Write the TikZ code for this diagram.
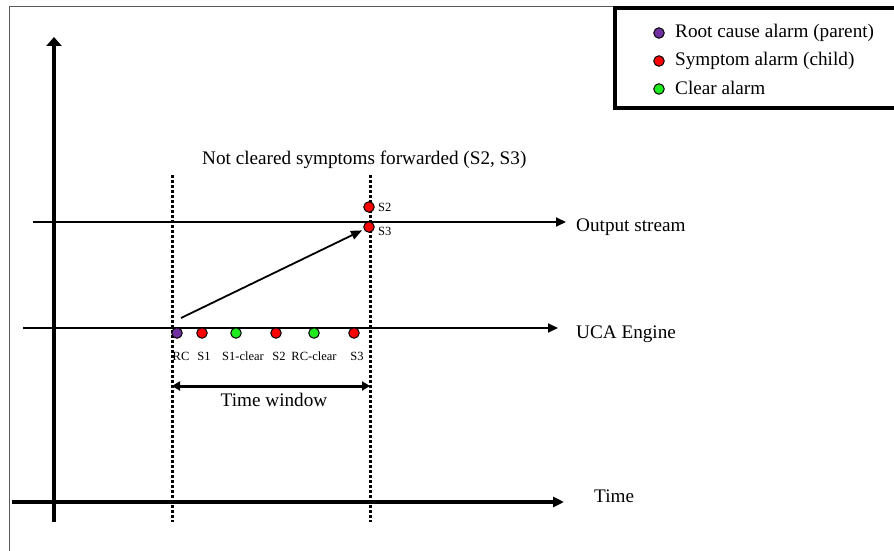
\documentclass[tikz,border=0pt]{standalone}
\usepackage{fontspec}
\setmainfont{Liberation Serif}
\usetikzlibrary{arrows.meta}
\definecolor{rcpurple}{RGB}{112,48,160}
\definecolor{clrgreen}{RGB}{30,235,30}
\definecolor{framegray}{RGB}{90,90,90}
\begin{document}
\begin{tikzpicture}[x=1pt,y=-1pt,
  big/.style={font=\fontsize{19.2}{22}\selectfont, inner sep=0pt},
  small/.style={font=\fontsize{12.5}{14}\selectfont, inner sep=0pt},
  alarm/.style={circle, draw=black, line width=1pt, minimum size=10.5pt, inner sep=0pt},
  rcdot/.style={alarm, fill=rcpurple},
  symdot/.style={alarm, fill=red},
  clrdot/.style={alarm, fill=clrgreen},
  axisline/.style={line width=3.5pt, -{Triangle[length=9pt,width=15pt]}},
  timeline/.style={line width=3.5pt, -{Triangle[length=11pt,width=10pt]}},
  streamline/.style={line width=1.8pt, -{Triangle[length=10pt,width=9pt]}},
  diagline/.style={line width=1.8pt, -{Triangle[length=11pt,width=9pt]}},
  winline/.style={line width=3pt, {Triangle[length=8pt,width=9pt]}-{Triangle[length=8pt,width=9pt]}},
  dotline/.style={line width=3pt, dash pattern=on 3pt off 2pt}
]
\useasboundingbox (0,0) rectangle (894,551);
\fill[white] (0,0) rectangle (894,551);

% outer frame
\coordinate (fbl) at (9.5,551);
\coordinate (ftl) at (9.5,6.5);
\coordinate (ftr) at (894,6.5);
\draw[framegray, line width=1pt] (fbl) -- (ftl) -- (ftr);

% legend
\coordinate (lgtl) at (615,8);
\coordinate (lgbr) at (905,108);
\draw[line width=3.5pt, fill=white] (lgtl) rectangle (lgbr);
\node[rcdot] (lg1) at (659,33) {};
\node[symdot] (lg2) at (659,61) {};
\node[clrdot] (lg3) at (659,89) {};
\node[big, anchor=base west] (lgt1) at (675,38) {Root cause alarm (parent)};
\node[big, anchor=base west] (lgt2) at (675,66) {Symptom alarm (child)};
\node[big, anchor=base west] (lgt3) at (675,94) {Clear alarm};

% axes
\coordinate (yb) at (54,522);
\coordinate (yt) at (54,37);
\draw[axisline] (yb) -- (yt);
\coordinate (tl) at (12,502);
\coordinate (tr) at (564,502);
\draw[timeline] (tl) -- (tr);
\node[big, anchor=base west] (timelbl) at (594,502) {Time};

% streams
\coordinate (osl) at (33,222);
\coordinate (osr) at (566,222);
\draw[streamline] (osl) -- (osr);
\node[big, anchor=base west] (oslbl) at (576,231) {Output stream};
\coordinate (ucl) at (23,328);
\coordinate (ucr) at (558,328);
\draw[streamline] (ucl) -- (ucr);
\node[big, anchor=base west] (uclbl) at (576,338) {UCA Engine};

% dotted window borders
\coordinate (d1t) at (172,175);
\coordinate (d1b) at (172,522);
\coordinate (d2t) at (370,175);
\coordinate (d2b) at (370,522);
\draw[dotline] (d1t) -- (d1b);
\draw[dotline] (d2t) -- (d2b);

% title
\node[big, anchor=base west] (title) at (202,164) {Not cleared symptoms forwarded (S2, S3)};

% alarms on UCA engine
\node[rcdot] (rc) at (177,333) {};
\node[symdot] (s1) at (202,333) {};
\node[clrdot] (s1c) at (236,333) {};
\node[symdot] (s2) at (276,333) {};
\node[clrdot] (rcc) at (314,333) {};
\node[symdot] (s3) at (354,333) {};
\node[small, anchor=base] (rcl) at (181,360) {RC};
\node[small, anchor=base] (s1l) at (204,360) {S1};
\node[small, anchor=base] (s1cl) at (243,360) {S1-clear};
\node[small, anchor=base] (s2l) at (279,360) {S2};
\node[small, anchor=base] (rccl) at (314,360) {RC-clear};
\node[small, anchor=base] (s3l) at (357,360) {S3};

% forwarded alarms on output stream
\node[symdot] (s2o) at (369,207) {};
\node[symdot] (s3o) at (369,227) {};
\node[small, anchor=base west] (s2ol) at (378,211) {S2};
\node[small, anchor=base west] (s3ol) at (378,235) {S3};

% forward arrow
\coordinate (fwd) at (181,318);
\draw[diagline, shorten >=2pt] (fwd) -- (s3o);

% time window
\coordinate (twl) at (172,386);
\coordinate (twr) at (370,386);
\draw[winline] (twl) -- (twr);
\node[big, anchor=base] (twlbl) at (274,406) {Time window};
\end{tikzpicture}
\end{document}
